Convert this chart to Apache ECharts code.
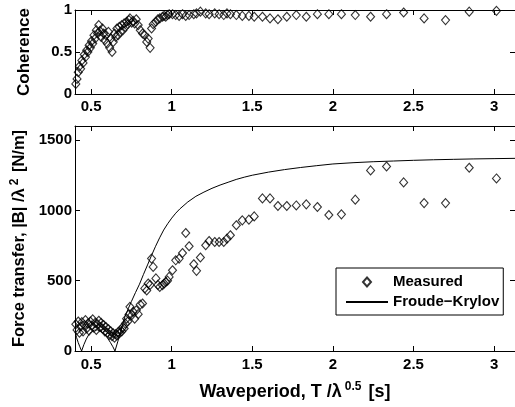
<!DOCTYPE html>
<html>
<head>
<meta charset="utf-8">
<script src="https://cdn.jsdelivr.net/npm/echarts@6/dist/echarts.min.js"></script>
<style>
  html, body { margin: 0; padding: 0; background: #fff; }
  #chart { width: 515px; height: 407px; }
</style>
</head>
<body>
<div id="chart"></div>
<script>
// Measured wave periods T/λ^0.5 [s], shared by both panels
const period = [
  0.405, 0.4125, 0.420, 0.4275, 0.435, 0.4425, 0.450, 0.4575, 0.465, 0.4725,
  0.480, 0.4875, 0.495, 0.5025, 0.510, 0.5175, 0.525, 0.5325, 0.540, 0.5475,
  0.555, 0.5625, 0.570, 0.5775, 0.585, 0.5925, 0.600, 0.6075, 0.615, 0.6225,
  0.630, 0.6375, 0.645, 0.6525, 0.660, 0.6675, 0.675, 0.6825, 0.690, 0.6975,
  0.705, 0.7125, 0.720, 0.7275, 0.735,
  0.741, 0.752, 0.761, 0.770, 0.780, 0.792, 0.805, 0.819, 0.833, 0.845,
  0.854, 0.866, 0.875, 0.885, 0.902, 0.914, 0.926, 0.943, 0.953, 0.963,
  0.974, 0.984, 1.005, 1.025, 1.046, 1.067, 1.087, 1.108, 1.137, 1.154,
  1.178, 1.211, 1.232, 1.267, 1.294, 1.323, 1.343, 1.364, 1.401, 1.438,
  1.479,
  1.512, 1.563, 1.610, 1.659, 1.714, 1.773, 1.835, 1.904, 1.975, 2.053,
  2.139, 2.234, 2.333, 2.439, 2.566, 2.699, 2.846, 3.015
];

// Coherence between wave and force signals
const coherence = [
  0.12, 0.18, 0.26, 0.33, 0.30, 0.40, 0.37, 0.47, 0.44, 0.52,
  0.50, 0.58, 0.55, 0.63, 0.60, 0.70, 0.66, 0.76, 0.72, 0.82,
  0.75, 0.68, 0.78, 0.72, 0.64, 0.70, 0.60, 0.74, 0.55, 0.66,
  0.50, 0.62, 0.72, 0.68, 0.78, 0.70, 0.80, 0.74, 0.82, 0.76,
  0.84, 0.80, 0.86, 0.83, 0.88,
  0.90, 0.85, 0.87, 0.84, 0.89, 0.82, 0.76, 0.72, 0.70, 0.62,
  0.66, 0.55, 0.78, 0.83, 0.86, 0.89, 0.90, 0.92, 0.93, 0.92,
  0.94, 0.95, 0.95, 0.94, 0.93, 0.95, 0.93, 0.94, 0.95, 0.96,
  0.98, 0.96, 0.95, 0.96, 0.95, 0.94, 0.96, 0.95, 0.94, 0.93,
  0.93,
  0.92, 0.92, 0.90, 0.89, 0.92, 0.94, 0.92, 0.95, 0.95, 0.95,
  0.94, 0.92, 0.95, 0.97, 0.90, 0.88, 0.98, 0.99
];

// Measured force transfer |B|/λ^2 [N/m]
const forceMeasured = [
  190, 150, 210, 130, 175, 205, 140, 185, 220, 160,
  195, 145, 210, 180, 225, 165, 200, 150, 190, 215,
  170, 200, 160, 185, 140, 170, 130, 155, 115, 140,
  105, 125, 95, 120, 110, 135, 125, 150, 140, 170,
  160, 195, 230, 210, 260,
  314, 255, 279, 230, 290, 262, 330, 338, 445, 430,
  480, 470, 657, 598, 516, 470, 456, 468, 480, 491,
  500, 527, 574, 645, 657, 697, 839, 745, 617, 570,
  665, 752, 782, 775, 775, 775, 799, 823, 894, 929,
  934,
  957, 1085, 1085, 1031, 1031, 1035, 1043, 1024, 967, 972,
  1076, 1284, 1312, 1199, 1052, 1052, 1303, 1227
];

// Froude-Krylov prediction
const fkPeriod = [
  0.40, 0.41, 0.42, 0.43, 0.441, 0.455, 0.47, 0.485, 0.50, 0.52,
  0.54, 0.56, 0.58, 0.60, 0.62, 0.635, 0.648, 0.665, 0.68, 0.695,
  0.71, 0.73, 0.75, 0.775, 0.80, 0.825, 0.85, 0.875, 0.90, 0.925,
  0.95, 0.975, 1.00, 1.025, 1.05, 1.10, 1.15, 1.20, 1.25, 1.30,
  1.35, 1.40, 1.45, 1.50, 1.60, 1.70, 1.80, 1.90, 2.00, 2.125,
  2.25, 2.375, 2.50, 2.625, 2.75, 2.875, 3.00, 3.13
];
const fkForce = [
  135, 95, 60, 30, 0, 45, 85, 115, 135, 148,
  150, 142, 122, 95, 60, 30, 0, 65, 125, 185,
  245, 300, 352, 415, 475, 545, 612, 680, 745, 805,
  860, 905, 945, 980, 1010, 1060, 1100, 1130, 1157, 1180,
  1200, 1220, 1236, 1250, 1272, 1290, 1305, 1318, 1330, 1339,
  1346, 1351, 1356, 1360, 1363, 1366, 1368, 1370
];

// Tick positions
const periodTicks = [0.5, 1, 1.5, 2, 2.5, 3];
const coherenceTicks = [0, 0.5, 1];
const forceTicks = [0, 500, 1000, 1500];

const FONT = '"Liberation Sans", Arial, Helvetica, sans-serif';
const INK = '#000';

function richLabel(size) {
  return {
    a: { fontFamily: FONT, fontSize: size, fontWeight: 'bold', color: INK, lineHeight: size + 4 },
    b: { fontFamily: FONT, fontSize: 12, fontWeight: 'bold', color: INK, lineHeight: 12,
         verticalAlign: 'top', padding: [0, 2, 0, 3] }
  };
}

function valueAxis(opts) {
  const base = {
    type: 'value',
    gridIndex: opts.grid,
    position: opts.position,
    min: opts.min,
    max: opts.max,
    splitLine: { show: false },
    axisLine: { show: true, onZero: false, lineStyle: { color: INK, width: 1 } },
    axisTick: {
      show: true, inside: true, length: 5,
      customValues: opts.ticks,
      lineStyle: { color: INK, width: 1 }
    },
    axisLabel: {
      show: !!opts.labels,
      customValues: opts.ticks,
      formatter: (v) => String(v),
      margin: opts.margin || 5,
      color: INK,
      fontFamily: FONT,
      fontSize: 15,
      fontWeight: 'bold'
    }
  };
  return Object.assign(base, opts.extra || {});
}

const chart = echarts.init(document.getElementById('chart'), null, { renderer: 'canvas' });

const measuredStyle = {
  color: 'rgba(0,0,0,0)',
  borderColor: INK,
  borderWidth: 1.1
};

chart.setOption({
  animation: false,
  backgroundColor: '#fff',
  grid: [
    { left: 75, top: 10, width: 441, height: 84 },
    { left: 75, top: 126, width: 441, height: 225 }
  ],
  xAxis: [
    valueAxis({ grid: 0, position: 'bottom', min: 0.4, max: 3.13, ticks: periodTicks, labels: true, margin: 5 }),
    valueAxis({ grid: 0, position: 'top', min: 0.4, max: 3.13, ticks: periodTicks }),
    valueAxis({
      grid: 1, position: 'bottom', min: 0.4, max: 3.13, ticks: periodTicks, labels: true, margin: 6,
      extra: {
        name: '{a|Waveperiod, T /λ}{b|0.5}{a| [s]}',
        nameLocation: 'middle',
        nameGap: 30,
        nameTextStyle: { rich: richLabel(18) }
      }
    }),
    valueAxis({ grid: 1, position: 'top', min: 0.4, max: 3.13, ticks: periodTicks })
  ],
  yAxis: [
    valueAxis({
      grid: 0, position: 'left', min: 0, max: 1, ticks: coherenceTicks, labels: true, margin: 3,
      extra: {
        name: 'Coherence',
        nameLocation: 'middle',
        nameRotate: 90,
        nameGap: 42,
        nameTextStyle: { fontFamily: FONT, fontSize: 17, fontWeight: 'bold', color: INK }
      }
    }),
    valueAxis({ grid: 0, position: 'right', min: 0, max: 1, ticks: coherenceTicks }),
    valueAxis({
      grid: 1, position: 'left', min: 0, max: 1600, ticks: forceTicks, labels: true, margin: 3,
      extra: {
        name: '{a|Force transfer, |B| /λ}{b|2}{a| [N/m]}',
        nameLocation: 'middle',
        nameRotate: 90,
        nameGap: 40,
        nameTextStyle: { rich: richLabel(16.5) }
      }
    }),
    valueAxis({ grid: 1, position: 'right', min: 0, max: 1600, ticks: forceTicks })
  ],
  legend: {
    data: [
      { name: 'Measured', icon: 'path://M4,0 L8,4.5 L4,9 L0,4.5 Z' },
      { name: 'Froude−Krylov', itemStyle: { color: 'rgba(0,0,0,0)', borderWidth: 0 } }
    ],
    orient: 'vertical',
    left: 336,
    top: 268,
    padding: [6, 4, 5, 9],
    itemGap: 4,
    itemWidth: 42,
    itemHeight: 9,
    itemTextGap: 6,
    symbolKeepAspect: true,
    backgroundColor: '#fff',
    borderColor: INK,
    borderWidth: 1,
    borderRadius: 0,
    textStyle: { fontFamily: FONT, fontSize: 15, fontWeight: 'bold', color: INK, lineHeight: 16 }
  },
  series: [
    {
      name: 'Coherence',
      type: 'scatter',
      xAxisIndex: 0,
      yAxisIndex: 0,
      symbol: 'diamond',
      symbolSize: [8, 9],
      itemStyle: measuredStyle,
      data: period.map((p, i) => [p, coherence[i]])
    },
    {
      name: 'Measured',
      type: 'scatter',
      xAxisIndex: 2,
      yAxisIndex: 2,
      symbol: 'diamond',
      symbolSize: [8, 9],
      itemStyle: measuredStyle,
      data: period.map((p, i) => [p, forceMeasured[i]]),
      z: 3
    },
    {
      name: 'Froude−Krylov',
      type: 'line',
      xAxisIndex: 2,
      yAxisIndex: 2,
      symbol: 'none',
      showSymbol: false,
      lineStyle: { color: INK, width: 1 },
      itemStyle: { color: INK },
      data: fkPeriod.map((p, i) => [p, fkForce[i]]),
      z: 2
    }
  ]
});
</script>
</body>
</html>
